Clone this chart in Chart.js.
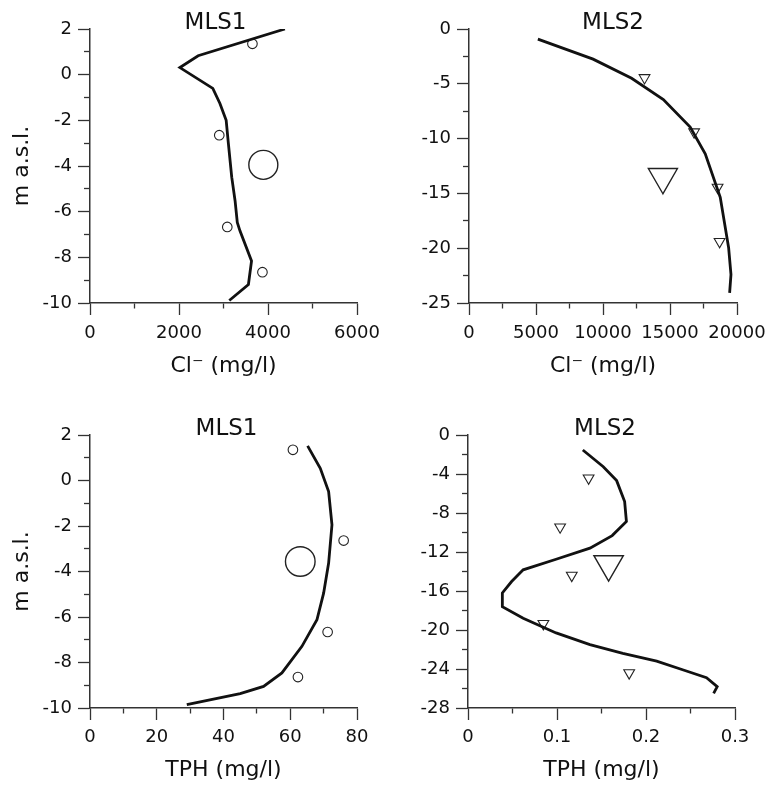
<!DOCTYPE html>
<html><head><meta charset="utf-8">
<script src="https://cdn.jsdelivr.net/npm/chart.js@4"></script>
<style>
html,body{margin:0;padding:0;background:#fff;}
#wrap{position:relative;width:779px;height:786px;background:#fff;overflow:hidden;}
canvas{position:absolute;}
</style></head><body>
<div id="wrap">
<canvas id="c1" width="390" height="390" style="left:0;top:0"></canvas>
<canvas id="c2" width="389" height="390" style="left:390px;top:0"></canvas>
<canvas id="c3" width="390" height="396" style="left:0;top:390px"></canvas>
<canvas id="c4" width="389" height="396" style="left:390px;top:390px"></canvas>
</div>
<script>
// ---------- DATA ----------
// Panel 1: MLS1, Cl- (mg/l) vs elevation (m a.s.l.)
const mls1ClLineCl = [4380, 2430, 2020, 2760, 2920, 3060, 3110, 3185, 3260, 3310, 3370, 3630, 3560, 3130];
const mls1ClLineZ  = [2.00, 0.83, 0.31, -0.60, -1.26, -2.00, -3.02, -4.49, -5.52, -6.47, -6.84, -8.16, -9.19, -9.89];
const mls1ClObsCl  = [3650, 2905, 3085, 3875];
const mls1ClObsZ   = [1.35, -2.65, -6.67, -8.65];
const mls1ClMeanCl = [3895];
const mls1ClMeanZ  = [-3.95];
const mls1ClXTicks = [0, 2000, 4000, 6000];
const mls1ClYTicks = [2, 0, -2, -4, -6, -8, -10];

// Panel 2: MLS2, Cl- (mg/l)
const mls2ClLineCl = [5140, 9260, 12135, 14505, 16505, 17630, 18750, 19375, 19550, 19450];
const mls2ClLineZ  = [-0.92, -2.75, -4.50, -6.43, -8.94, -11.38, -15.36, -19.95, -22.40, -24.08];
const mls2ClObsCl  = [13100, 16800, 18550, 18700];
const mls2ClObsZ   = [-4.45, -9.4, -14.45, -19.4];
const mls2ClMeanCl = [14470];
const mls2ClMeanZ  = [-13.5];
const mls2ClXTicks = [0, 5000, 10000, 15000, 20000];
const mls2ClYTicks = [0, -5, -10, -15, -20, -25];

// Panel 3: MLS1, TPH (mg/l)
const mls1TphLineT = [65.2, 69.0, 71.5, 72.5, 71.5, 70.0, 68.0, 63.5, 57.5, 52.0, 45.0, 29.0];
const mls1TphLineZ = [1.52, 0.54, -0.49, -1.95, -3.63, -4.95, -6.12, -7.29, -8.46, -9.05, -9.37, -9.85];
const mls1TphObsT  = [60.8, 76.0, 71.2, 62.3];
const mls1TphObsZ  = [1.35, -2.64, -6.66, -8.64];
const mls1TphMeanT = [63.0];
const mls1TphMeanZ = [-3.56];
const mls1TphXTicks = [0, 20, 40, 60, 80];
const mls1TphYTicks = [2, 0, -2, -4, -6, -8, -10];

// Panel 4: MLS2, TPH (mg/l)
const mls2TphLineT = [0.129, 0.152, 0.167, 0.176, 0.178, 0.162, 0.137, 0.099, 0.062, 0.049, 0.0386, 0.0386, 0.062, 0.099, 0.137, 0.174, 0.212, 0.242, 0.268, 0.280, 0.276];
const mls2TphLineZ = [-1.54, -3.25, -4.68, -6.83, -8.88, -10.32, -11.6, -12.74, -13.83, -15.03, -16.2, -17.6, -18.8, -20.3, -21.5, -22.4, -23.2, -24.1, -24.9, -25.8, -26.5];
const mls2TphObsT  = [0.1355, 0.1035, 0.1166, 0.0847, 0.1811];
const mls2TphObsZ  = [-4.42, -9.44, -14.4, -19.35, -24.4];
const mls2TphMeanT = [0.158];
const mls2TphMeanZ = [-13.25];
const mls2TphXTicks = [0, 0.1, 0.2, 0.3];
const mls2TphYTicks = [0, -4, -8, -12, -16, -20, -24, -28];

// ---------- HELPERS ----------
Chart.defaults.font.family = '"DejaVu Sans", sans-serif';
Chart.defaults.color = '#111';

function pts(xs, ys){ return xs.map((x, i) => ({x: x, y: ys[i]})); }
function near(list, v){ return list.find(l => Math.abs(l - v) < 1e-9 * Math.max(1, Math.abs(l))); }
function labelCb(list){ return v => { const h = near(list, v); return h === undefined ? '' : String(h); }; }

const panelTitlePlugin = {
  id: 'panelTitle',
  afterDraw(chart, args, opts){
    if (!opts || !opts.text) return;
    const ctx = chart.ctx;
    ctx.save();
    ctx.font = '23px "DejaVu Sans", sans-serif';
    ctx.fillStyle = '#111';
    ctx.textAlign = 'center';
    ctx.textBaseline = 'alphabetic';
    const a = chart.chartArea;
    ctx.fillText(opts.text, (a.left + a.right) / 2 + opts.dx, a.top + opts.dy);
    ctx.restore();
  }
};

function lineDs(data){
  return {data, showLine:true, borderColor:'#111', borderWidth:2.8, pointRadius:0, fill:false, tension:0, borderJoinStyle:'miter', order:0};
}
function markDs(data, style, r, bw){
  return {data, showLine:false, pointStyle:style, pointRotation: style === 'triangle' ? 180 : 0,
    pointRadius:r, pointBorderColor:'#222', pointBorderWidth:bw, pointBackgroundColor:'rgba(0,0,0,0)', order:1};
}

function makePanel(id, p){
  const cv = document.getElementById(id);
  const W = cv.width, H = cv.height;
  return new Chart(cv, {
    type: 'scatter',
    data: { datasets: p.datasets },
    plugins: [panelTitlePlugin],
    options: {
      responsive:false, maintainAspectRatio:false, animation:false, devicePixelRatio:1, events:[],
      layout: { padding: { left:0, top:p.area.T, right: W - p.area.R, bottom:0 } },
      plugins: {
        legend:{display:false}, tooltip:{enabled:false},
        panelTitle: { text:p.title, dx:p.titleDx, dy:p.titleDy }
      },
      scales: {
        x: {
          type:'linear', position:'bottom', min:p.x.min, max:p.x.max,
          ticks:{ stepSize:p.x.step, autoSkip:false, maxRotation:0, minRotation:0, padding:p.xPad,
                  color:'#111', font:{size:18}, callback: labelCb(p.x.labels) },
          grid:{ display:true, drawOnChartArea:false, drawTicks:true, tickLength:12, tickColor:'#333', tickWidth:1.3,
                 tickBorderDash: c => (c.tick && near(p.x.labels, c.tick.value) !== undefined) ? [] : [5, 20],
                 tickBorderDashOffset: 0 },
          border:{ display:true, color:'#333', width:1.5 },
          title:{ display:true, text:p.x.title, font:{size:22}, color:'#111', padding:{top:0, bottom:p.xTitlePad} },
          afterFit(s){ s.height = H - p.area.B; }
        },
        y: {
          type:'linear', position:'left', min:p.y.min, max:p.y.max,
          ticks:{ stepSize:p.y.step, autoSkip:false, padding:6, color:'#111', font:{size:18}, callback: labelCb(p.y.labels) },
          grid:{ display:true, drawOnChartArea:false, drawTicks:true, tickLength:12, tickColor:'#333', tickWidth:1.3,
                 tickBorderDash: c => (c.tick && near(p.y.labels, c.tick.value) !== undefined) ? [] : [6, 6],
                 tickBorderDashOffset: c => (c.tick && near(p.y.labels, c.tick.value) !== undefined) ? 0 : 6 },
          border:{ display:true, color:'#333', width:1.5 },
          title:{ display: !!p.y.title, text:p.y.title || '', font:{size:22}, color:'#111', padding:{top:9, bottom:0} },
          afterFit(s){ s.width = p.area.L; }
        }
      }
    }
  });
}

// ---------- PANELS ----------
makePanel('c1', {
  title:'MLS1', titleDx:-8, titleDy:0,
  area:{L:90, R:357, T:29, B:303}, xPad:8, xTitlePad:11,
  x:{min:0, max:6000, step:1000, labels:mls1ClXTicks, title:'Cl\u207B (mg/l)'},
  y:{min:-10, max:2, step:1, labels:mls1ClYTicks, title:'m a.s.l.'},
  datasets:[ lineDs(pts(mls1ClLineCl, mls1ClLineZ)),
             markDs(pts(mls1ClObsCl, mls1ClObsZ), 'circle', 4.8, 1.1),
             markDs(pts(mls1ClMeanCl, mls1ClMeanZ), 'circle', 14.5, 1.4) ]
});

makePanel('c2', {
  title:'MLS2', titleDx:10, titleDy:0,
  area:{L:79, R:347, T:29, B:303}, xPad:7.5, xTitlePad:11,
  x:{min:0, max:20000, step:2500, labels:mls2ClXTicks, title:'Cl\u207B (mg/l)'},
  y:{min:-25, max:0, step:2.5, labels:mls2ClYTicks, title:''},
  datasets:[ lineDs(pts(mls2ClLineCl, mls2ClLineZ)),
             markDs(pts(mls2ClObsCl, mls2ClObsZ), 'triangle', 6.2, 1.1),
             markDs(pts(mls2ClMeanCl, mls2ClMeanZ), 'triangle', 16.8, 1.4) ]
});

makePanel('c3', {
  title:'MLS1', titleDx:3, titleDy:0,
  area:{L:90, R:357, T:45, B:318}, xPad:6.5, xTitlePad:3,
  x:{min:0, max:80, step:10, labels:mls1TphXTicks, title:'TPH (mg/l)'},
  y:{min:-10, max:2, step:1, labels:mls1TphYTicks, title:'m a.s.l.'},
  datasets:[ lineDs(pts(mls1TphLineT, mls1TphLineZ)),
             markDs(pts(mls1TphObsT, mls1TphObsZ), 'circle', 4.8, 1.1),
             markDs(pts(mls1TphMeanT, mls1TphMeanZ), 'circle', 14.8, 1.4) ]
});

makePanel('c4', {
  title:'MLS2', titleDx:3.5, titleDy:0,
  area:{L:78, R:345, T:45, B:318}, xPad:6.5, xTitlePad:3,
  x:{min:0, max:0.3, step:0.05, labels:mls2TphXTicks, title:'TPH (mg/l)'},
  y:{min:-28, max:0, step:2, labels:mls2TphYTicks, title:''},
  datasets:[ lineDs(pts(mls2TphLineT, mls2TphLineZ)),
             markDs(pts(mls2TphObsT, mls2TphObsZ), 'triangle', 6.2, 1.1),
             markDs(pts(mls2TphMeanT, mls2TphMeanZ), 'triangle', 17, 1.4) ]
});
</script>
</body></html>
